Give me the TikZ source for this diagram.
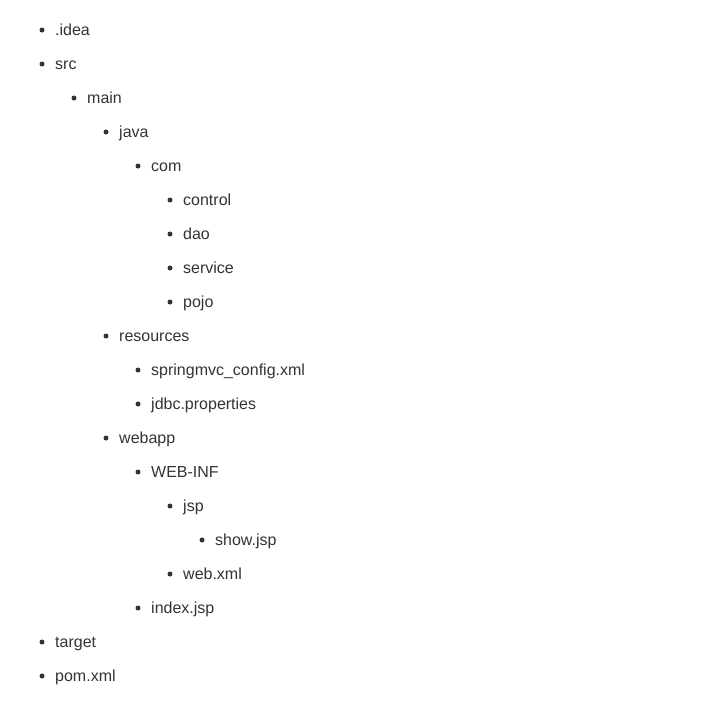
\documentclass[tikz,border=0pt]{standalone}
\usepackage{fontspec}
\setmainfont{Liberation Sans}
\definecolor{txt}{HTML}{333333}
\begin{document}
\begin{tikzpicture}[x=1pt,y=-1pt,
  itemtext/.style={anchor=base west,inner sep=0pt,text=txt,font=\fontsize{16}{19}\selectfont},
  bulletdot/.style={circle,fill=txt,inner sep=0pt,minimum size=5pt}]
\useasboundingbox (0,0) rectangle (707,704);
\foreach \lvl/\y/\t [count=\i] in {
  0/29/.idea, 0/63/src, 1/97/main, 2/131/java, 3/165/com,
  4/199/control, 4/233/dao, 4/267/service, 4/301/pojo,
  2/335/resources, 3/369/springmvc\_config.xml, 3/403/jdbc.properties,
  2/437/webapp, 3/471/WEB-INF, 4/505/jsp, 5/539/show.jsp, 4/573/web.xml,
  3/607/index.jsp, 0/641/target, 0/675/pom.xml}{
  \node[bulletdot] (b\i) at ({42+32*\lvl},{\y+1}) {};
  \node[itemtext] (t\i) at ({55+32*\lvl},{\y+6.5}) {\t};
}
\end{tikzpicture}
\end{document}
